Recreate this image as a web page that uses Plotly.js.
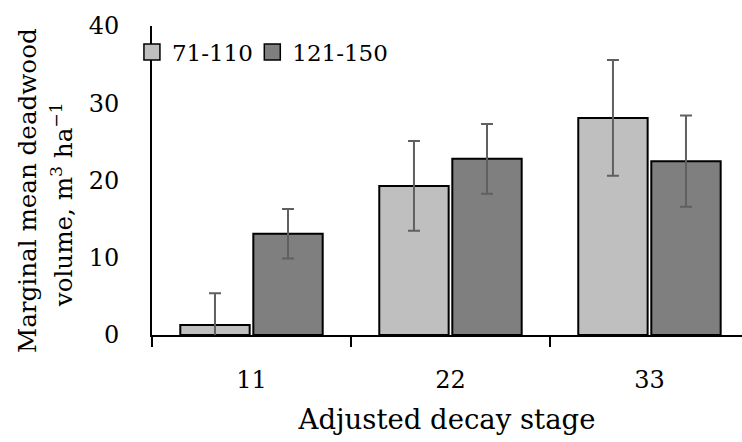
<!DOCTYPE html>
<html>
<head>
<meta charset="utf-8">
<script src="https://cdn.plot.ly/plotly-3.0.1.min.js"></script>
<style>html,body{margin:0;padding:0;background:#fff;}#chart{width:742px;height:442px;}</style>
</head>
<body>
<div id="chart"></div>
<script>
// Data
const categories = ["11", "22", "33"];
const seriesNames = ["71-110", "121-150"];
const valuesA = [1.3, 19.3, 28.1];   // 71-110
const errorsA = [4.1, 5.8, 7.5];
const valuesB = [13.1, 22.8, 22.5];  // 121-150
const errorsB = [3.2, 4.5, 5.9];
const yTickVals = [0, 10, 20, 30, 40];
const yTitleLines = ["Marginal mean deadwood", "volume, m<sup>3</sup> ha<sup>\u22121</sup>"];
const xTitle = "Adjusted decay stage";

const FONT = "DejaVu Serif, Liberation Serif, serif";
const colors = ["#bfbfbf", "#7f7f7f"];

function barTrace(name, vals, errs, color) {
  return {
    type: "bar", name: name, x: categories, y: vals, showlegend: false,
    marker: {color: color, line: {color: "#000", width: 2}},
    error_y: {type: "data", array: errs, visible: true, color: "#606060", thickness: 2, width: 6}
  };
}
function legendTrace(name, color, legendId) {
  return {
    type: "scatter", mode: "markers", name: name, x: [null], y: [null], legend: legendId,
    marker: {symbol: "square", size: 16, color: color, line: {color: "#000", width: 1.5}}
  };
}

const data = [
  barTrace(seriesNames[0], valuesA, errorsA, colors[0]),
  barTrace(seriesNames[1], valuesB, errorsB, colors[1]),
  legendTrace(seriesNames[0], colors[0], "legend"),
  legendTrace(seriesNames[1], colors[1], "legend2")
];

const legendBase = {
  orientation: "h", xanchor: "left", y: 0.916, yanchor: "middle",
  font: {size: 23}, bgcolor: "rgba(0,0,0,0)", borderwidth: 0, itemsizing: "trace"
};

const layout = {
  width: 742, height: 442,
  margin: {l: 152, r: 0, t: 26, b: 107, pad: 0},
  paper_bgcolor: "#fff", plot_bgcolor: "#fff",
  font: {family: FONT, color: "#000", size: 24},
  barmode: "group", bargap: 0.266, bargroupgap: 0.05,
  xaxis: {
    type: "category", range: [-0.5, 2.465], showline: true, linecolor: "#000", linewidth: 2,
    ticks: "outside", tickson: "boundaries", ticklen: 10, tickwidth: 2, tickcolor: "#000",
    showgrid: false, zeroline: false, ticklabelstandoff: 22,
    tickfont: {size: 24},
    title: {text: xTitle, font: {size: 27.5}, standoff: 17}, automargin: false
  },
  yaxis: {
    range: [0, 40], tickvals: yTickVals, showline: true, linecolor: "#000", linewidth: 2,
    ticks: "", showgrid: false, zeroline: false, ticklabelstandoff: 26,
    tickfont: {size: 24}, automargin: false
  },
  showlegend: true,
  legend: Object.assign({}, legendBase, {x: -0.034}),
  legend2: Object.assign({}, legendBase, {x: 0.170}),
  annotations: [
    {text: yTitleLines[0], xref: "paper", yref: "paper", x: 0, y: 0.466, xanchor: "center", yanchor: "middle",
     xshift: -125, textangle: -90, showarrow: false, font: {size: 24.6}},
    {text: yTitleLines[1], xref: "paper", yref: "paper", x: 0, y: 0.42, xanchor: "center", yanchor: "middle",
     xshift: -90, textangle: -90, showarrow: false, font: {size: 24.6}}
  ]
};

Plotly.newPlot("chart", data, layout, {displayModeBar: false, staticPlot: true});
</script>
</body>
</html>
